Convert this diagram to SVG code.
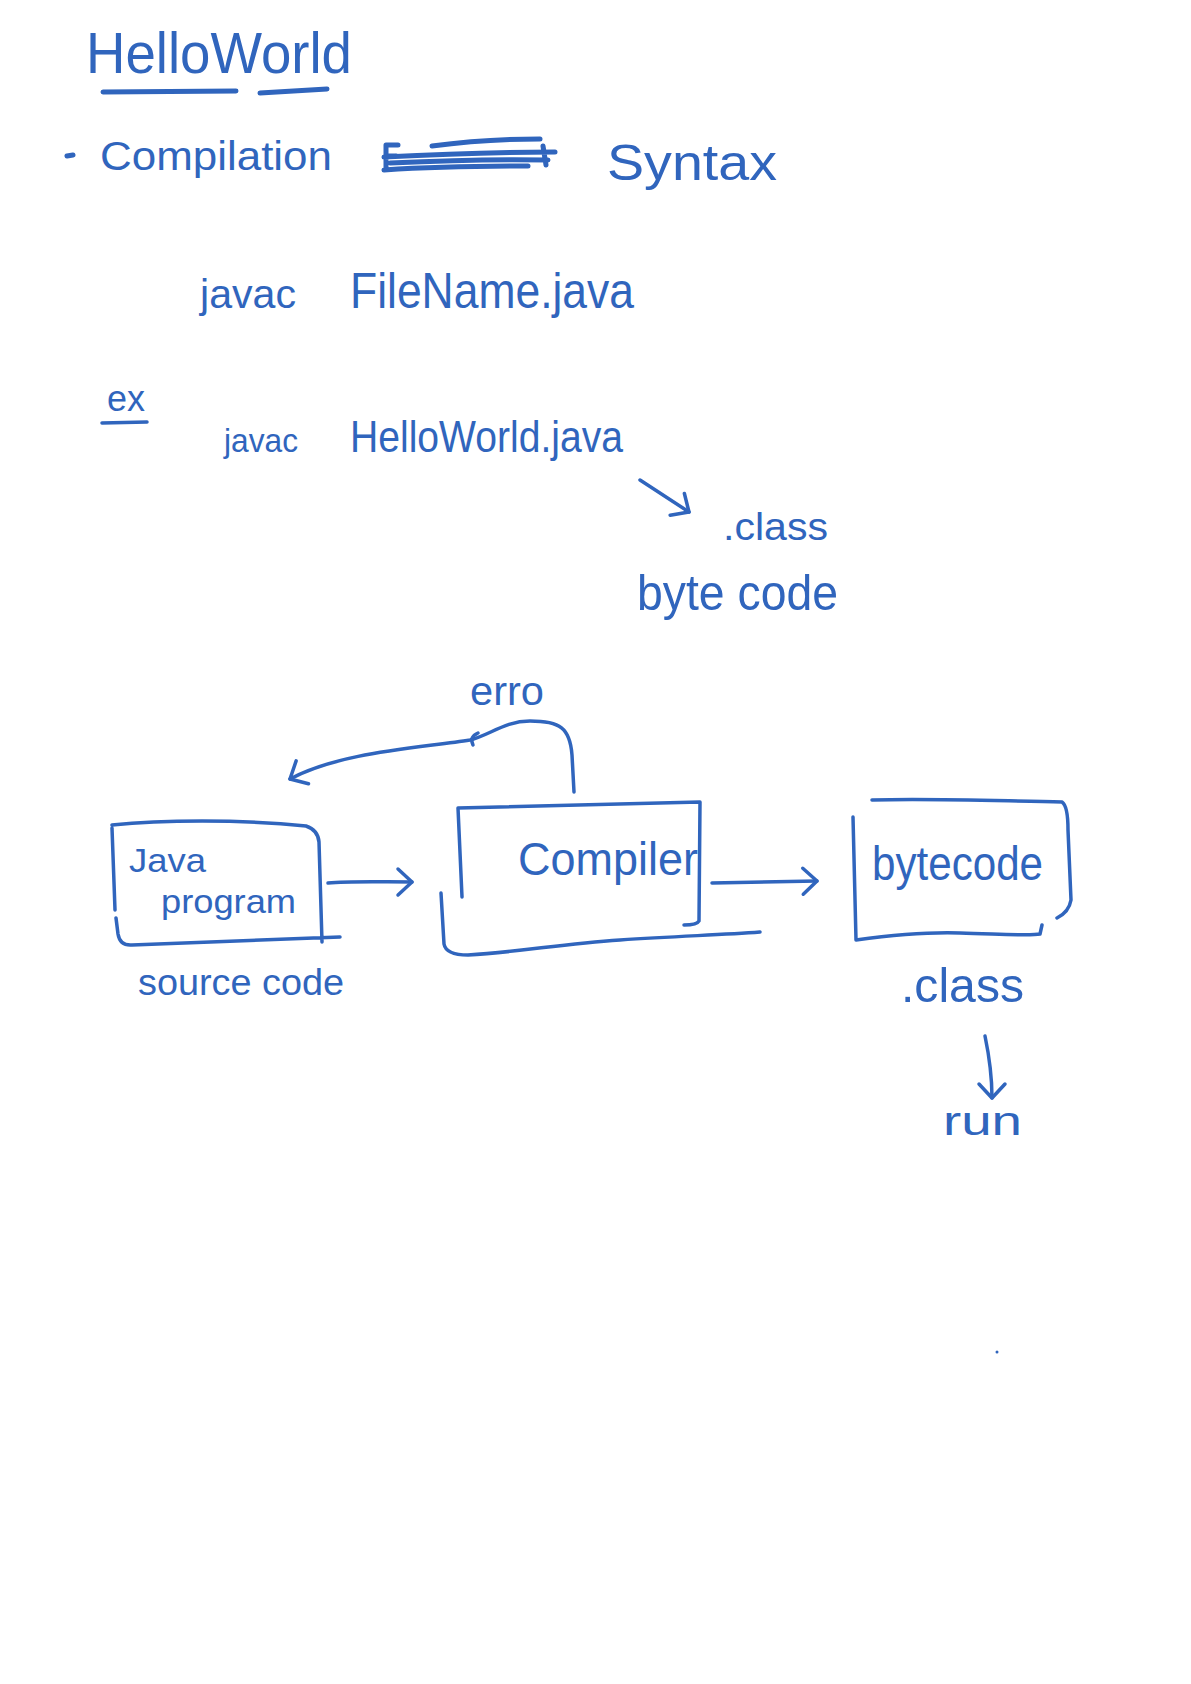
<svg xmlns="http://www.w3.org/2000/svg" width="1191" height="1684" viewBox="0 0 1191 1684">
<style>
  .t { font-family: "Liberation Sans", Arial, sans-serif; fill: #3065BD; }
  .s { fill: none; stroke: #3065BD; stroke-width: 3.5; stroke-linecap: round; stroke-linejoin: round; }
  .k { fill: none; stroke: #3065BD; stroke-width: 5; stroke-linecap: round; stroke-linejoin: round; }
</style>
<defs>
  <marker id="head" markerUnits="userSpaceOnUse" markerWidth="40" markerHeight="40" viewBox="-20 -20 40 40" refX="0" refY="0" orient="auto">
    <path d="M-14,-13 L0,0 L-14,13" fill="none" stroke="#3065BD" stroke-width="3.5" stroke-linecap="round" stroke-linejoin="round"/>
  </marker>
</defs>
<rect width="1191" height="1684" fill="#ffffff"/>

<g id="title">
  <text class="t" x="86" y="73" font-size="58" textLength="266" lengthAdjust="spacingAndGlyphs">HelloWorld</text>
  <path class="k" d="M103,92 L236,91 M260,93 L327,89"/>
</g>

<g id="compilation-line">
  <path class="k" d="M67,156 L73,155"/>
  <text class="t" x="100" y="170" font-size="40" textLength="232" lengthAdjust="spacingAndGlyphs">Compilation</text>
  <path class="k" d="M386,145 L386,167 M386,145 L398,145 M386,156 L396,156 M432,146 C470,141 510,139 540,139 M384,157 C440,154 500,152 555,152 M384,170 C430,167 480,166 528,166 M390,163 C450,160 500,159 548,160 M543,146 L546,165"/>
  <text class="t" x="607" y="180" font-size="50" textLength="170" lengthAdjust="spacingAndGlyphs">Syntax</text>
</g>

<g id="syntax-line">
  <text class="t" x="200" y="308" font-size="40" textLength="96" lengthAdjust="spacingAndGlyphs">javac</text>
  <text class="t" x="350" y="308" font-size="50" textLength="284" lengthAdjust="spacingAndGlyphs">FileName.java</text>
</g>

<g id="example">
  <text class="t" x="107" y="411" font-size="36" textLength="38" lengthAdjust="spacingAndGlyphs">ex</text>
  <path class="s" d="M102,423 L147,422"/>
  <text class="t" x="224" y="452" font-size="34" textLength="74" lengthAdjust="spacingAndGlyphs">javac</text>
  <text class="t" x="350" y="452" font-size="44" textLength="273" lengthAdjust="spacingAndGlyphs">HelloWorld.java</text>
</g>

<g id="class-note">
  <text class="t" x="723" y="540" font-size="38" textLength="105" lengthAdjust="spacingAndGlyphs">.class</text>
  <text class="t" x="637" y="610" font-size="50" textLength="201" lengthAdjust="spacingAndGlyphs">byte code</text>
</g>

<g id="java-program">
  <path class="s" d="M112,825 C160,820 240,819 306,826 Q318,830 319,842 L322,942 M112,828 L115,910 M116,918 L118,934 Q120,946 132,945 L340,937"/>
  <text class="t" x="129" y="872" font-size="34" textLength="77" lengthAdjust="spacingAndGlyphs">Java</text>
  <text class="t" x="161" y="913" font-size="34" textLength="135" lengthAdjust="spacingAndGlyphs">program</text>
  <text class="t" x="138" y="995" font-size="36" textLength="206" lengthAdjust="spacingAndGlyphs">source code</text>
</g>

<g id="compiler">
  <path class="s" d="M458,808 L700,802 L699,921 Q697,925 684,925 M458,808 L462,897 M441,893 L444,944 Q446,955 468,955 C520,952 560,944 620,940 C680,936 720,935 760,932"/>
  <text class="t" x="518" y="875" font-size="46" textLength="180" lengthAdjust="spacingAndGlyphs">Compiler</text>
</g>

<g id="bytecode">
  <path class="s" d="M872,800 C930,798 1000,801 1062,802 Q1068,806 1068,830 L1071,900 Q1069,912 1057,918 M853,817 L856,940 C900,934 930,932 960,933 C1000,934 1030,936 1040,934 L1042,925"/>
  <text class="t" x="872" y="880" font-size="48" textLength="171" lengthAdjust="spacingAndGlyphs">bytecode</text>
  <text class="t" x="901" y="1002" font-size="48" textLength="123" lengthAdjust="spacingAndGlyphs">.class</text>
</g>

<g id="run">
  <text class="t" x="943" y="1135" font-size="40" textLength="79" lengthAdjust="spacingAndGlyphs">run</text>
</g>

<g id="error-label">
  <text class="t" x="470" y="705" font-size="40" textLength="74" lengthAdjust="spacingAndGlyphs">erro</text>
</g>

<g id="connectors">
  <path class="s" marker-end="url(#head)" d="M640,480 L689,512"/>
  <path class="s" marker-end="url(#head)" d="M328,883 C350,881 380,882 412,882"/>
  <path class="s" marker-end="url(#head)" d="M712,883 L817,881"/>
  <path class="s" marker-end="url(#head)" d="M985,1036 C990,1060 992,1080 992,1098"/>
  <path class="s" marker-end="url(#head)" d="M574,792 L572,755 C570,728 560,721 530,721 C505,721 490,735 470,740 C420,748 340,752 290,779"/>
  <path class="s" d="M478,733 Q469,737 473,745"/>
</g>

<circle cx="997" cy="1352" r="1.5" fill="#3065BD"/>
</svg>
